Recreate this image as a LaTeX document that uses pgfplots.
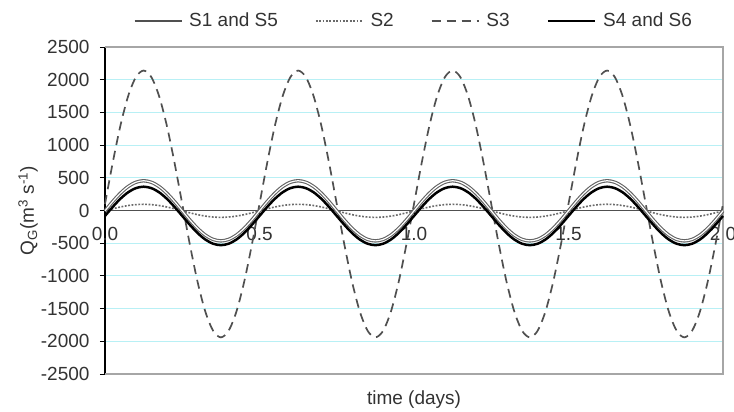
\documentclass[border=0pt]{standalone}
\usepackage{fontspec}
\setmainfont{Liberation Sans}
\usepackage{pgfplots}
\pgfplotsset{compat=1.18}
\usepackage{pgfplotstable}
\definecolor{ink}{HTML}{333333}
\definecolor{gridc}{HTML}{B8F0F5}
\definecolor{framec}{HTML}{A6A6A6}
\definecolor{sgray}{HTML}{626262}
\definecolor{sdash}{HTML}{505050}

% t (days), S1/S5, S2, S3, S4/S6
\pgfplotstableread{
t a b c d
0.000 -5 -5 100 -83
0.025 137 26 730 55
0.050 265 54 1300 180
0.075 367 76 1750 279
0.100 432 90 2040 342
0.125 455 95 2140 364
0.150 432 90 2040 342
0.175 367 76 1750 279
0.200 265 54 1300 180
0.225 137 26 730 55
0.250 -5 -5 100 -83
0.275 -147 -36 -530 -221
0.300 -275 -64 -1100 -346
0.325 -377 -86 -1550 -445
0.350 -442 -100 -1840 -508
0.375 -465 -105 -1940 -530
0.400 -442 -100 -1840 -508
0.425 -377 -86 -1550 -445
0.450 -275 -64 -1100 -346
0.475 -147 -36 -530 -221
0.500 -5 -5 100 -83
0.525 137 26 730 55
0.550 265 54 1300 180
0.575 367 76 1750 279
0.600 432 90 2040 342
0.625 455 95 2140 364
0.650 432 90 2040 342
0.675 367 76 1750 279
0.700 265 54 1300 180
0.725 137 26 730 55
0.750 -5 -5 100 -83
0.775 -147 -36 -530 -221
0.800 -275 -64 -1100 -346
0.825 -377 -86 -1550 -445
0.850 -442 -100 -1840 -508
0.875 -465 -105 -1940 -530
0.900 -442 -100 -1840 -508
0.925 -377 -86 -1550 -445
0.950 -275 -64 -1100 -346
0.975 -147 -36 -530 -221
1.000 -5 -5 100 -83
1.025 137 26 730 55
1.050 265 54 1300 180
1.075 367 76 1750 279
1.100 432 90 2040 342
1.125 455 95 2140 364
1.150 432 90 2040 342
1.175 367 76 1750 279
1.200 265 54 1300 180
1.225 137 26 730 55
1.250 -5 -5 100 -83
1.275 -147 -36 -530 -221
1.300 -275 -64 -1100 -346
1.325 -377 -86 -1550 -445
1.350 -442 -100 -1840 -508
1.375 -465 -105 -1940 -530
1.400 -442 -100 -1840 -508
1.425 -377 -86 -1550 -445
1.450 -275 -64 -1100 -346
1.475 -147 -36 -530 -221
1.500 -5 -5 100 -83
1.525 137 26 730 55
1.550 265 54 1300 180
1.575 367 76 1750 279
1.600 432 90 2040 342
1.625 455 95 2140 364
1.650 432 90 2040 342
1.675 367 76 1750 279
1.700 265 54 1300 180
1.725 137 26 730 55
1.750 -5 -5 100 -83
1.775 -147 -36 -530 -221
1.800 -275 -64 -1100 -346
1.825 -377 -86 -1550 -445
1.850 -442 -100 -1840 -508
1.875 -465 -105 -1940 -530
1.900 -442 -100 -1840 -508
1.925 -377 -86 -1550 -445
1.950 -275 -64 -1100 -346
1.975 -147 -36 -530 -221
2.000 -5 -5 100 -83
}\tides

\begin{document}
\fontsize{19}{22}\selectfont
\begin{tikzpicture}
\fill[white] (-105pt,-38pt) rectangle (629pt,374pt);
\begin{axis}[
  at={(0,0)}, anchor=south west,
  scale only axis, width=618pt, height=327pt,
  xmin=0, xmax=2, ymin=-2500, ymax=2500,
  axis x line*=middle, axis y line*=left,
  hide obscured x ticks=false, hide obscured y ticks=false,
  clip=false,
  xtick={0,0.5,1,1.5,2}, ytick={-2500,-2000,...,2500},
  /pgf/number format/assume math mode=true,
  /pgf/number format/set thousands separator={},
  ticklabel style={ink, font=\fontsize{19}{22}\selectfont},
  yticklabel style={xshift=-4pt},
  xticklabel style={yshift=-5pt, /pgf/number format/.cd, fixed, fixed zerofill, precision=1},
  ymajorgrids, grid style={gridc, line width=1pt},
  tick align=outside, major tick length=5pt,
  tick style={black, line width=0.8pt},
  y axis line style={black, line width=1.2pt},
  x axis line style={sdash, line width=1.5pt},
  xlabel={time (days)},
  ylabel={Q\textsubscript{G}(m\textsuperscript{3} s\textsuperscript{-1})},
  label style={ink, font=\fontsize{19}{22}\selectfont},
  xlabel style={at={(axis description cs:0.5,-0.0795)}, anchor=center},
  ylabel style={at={(axis description cs:-0.1246,0.5)}, anchor=center},
  legend columns=4,
  legend style={at={(axis description cs:0.5,1.0795)}, anchor=center, draw=none, fill=none,
    font=\fontsize{19}{22}\selectfont, text=ink,
    /tikz/every odd column/.append style={column sep=5pt},
    /tikz/every even column/.append style={column sep=35pt}},
  legend image code/.code={\draw[#1] (0pt,0pt) -- (47pt,0pt);},
]
\draw[framec, line width=1.3pt] (rel axis cs:0,1) -- (rel axis cs:1,1) -- (rel axis cs:1,0) -- (rel axis cs:0,0);
\addplot[sdash, line width=1.7pt, dash pattern=on 9pt off 6pt, smooth, forget plot] table[x=t, y=c] {\tides};
\addplot[sdash!85, line width=1.6pt, dash pattern=on 1.8pt off 1.6pt, smooth, forget plot] table[x=t, y=b] {\tides};
\addplot[sgray, line width=1.1pt, double=white, double distance=1.2pt, smooth, forget plot] table[x=t, y=a] {\tides};
\addplot[black, line width=2.5pt, smooth, forget plot] table[x=t, y=d] {\tides};
\addlegendimage{sdash, line width=1.2pt}
\addlegendentry{S1 and S5}
\addlegendimage{sdash!85, line width=1.6pt, dash pattern=on 1.8pt off 1.6pt}
\addlegendentry{S2}
\addlegendimage{sdash, line width=1.7pt, dash pattern=on 9pt off 6pt}
\addlegendentry{S3}
\addlegendimage{black, line width=2.5pt}
\addlegendentry{S4 and S6}
\end{axis}
\pgfresetboundingbox
\useasboundingbox (-105pt,-38pt) rectangle (629pt,374pt);
\end{tikzpicture}
\end{document}
